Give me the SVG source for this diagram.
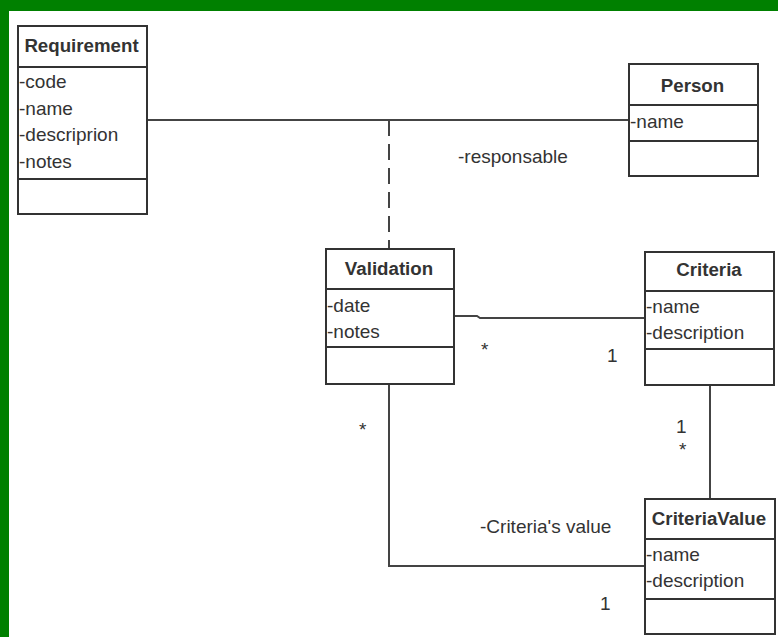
<svg xmlns="http://www.w3.org/2000/svg" width="778" height="637" viewBox="0 0 778 637">
<style>
.box{fill:#fff;stroke:#333;stroke-width:2}
.div{stroke:#333;stroke-width:2}
.ln{fill:none;stroke:#444;stroke-width:2}
.dash{fill:none;stroke:#444;stroke-width:2;stroke-dasharray:16 8}
text{font-family:"Liberation Sans",Arial,sans-serif;font-size:19px;fill:#333}
.t{font-weight:bold;text-anchor:middle;font-size:18.7px}
</style>
<rect x="0" y="0" width="778" height="637" fill="#fff"/>
<rect x="0" y="0" width="778" height="11" fill="#008000"/>
<rect x="0" y="0" width="9" height="637" fill="#008000"/>
<g id="connectors">
<line class="ln" x1="147" y1="120" x2="629" y2="120"/>
<line class="dash" x1="389" y1="120" x2="389" y2="249"/>
<polyline class="ln" points="454,316 477,316 480,318 645,318"/>
<polyline class="ln" points="389,384 389,566 645,566"/>
<line class="ln" x1="710" y1="385" x2="710" y2="499"/>
<text x="458" y="163">-responsable</text>
<text x="481" y="356" font-size="14">*</text>
<text x="607" y="362">1</text>
<text x="359" y="436" font-size="14">*</text>
<text x="676" y="433">1</text>
<text x="679" y="456" font-size="14">*</text>
<text x="480" y="533">-Criteria's value</text>
<text x="600" y="610">1</text>
</g>
<g id="Requirement">
<rect class="box" x="18" y="26" width="129" height="188"/>
<line class="div" x1="18" y1="67" x2="147" y2="67"/>
<line class="div" x1="18" y1="179" x2="147" y2="179"/>
<text class="t" x="81.5" y="52">Requirement</text>
<text x="19" y="88">-code</text>
<text x="19" y="114.5">-name</text>
<text x="19" y="141">-descriprion</text>
<text x="19" y="167.5">-notes</text>
</g>
<g id="Person">
<rect class="box" x="629" y="64" width="129" height="112"/>
<line class="div" x1="629" y1="105" x2="758" y2="105"/>
<line class="div" x1="629" y1="141" x2="758" y2="141"/>
<text class="t" x="692.5" y="92">Person</text>
<text x="630" y="128">-name</text>
</g>
<g id="Validation">
<rect class="box" x="326" y="249" width="128" height="135"/>
<line class="div" x1="326" y1="289" x2="454" y2="289"/>
<line class="div" x1="326" y1="347" x2="454" y2="347"/>
<text class="t" x="389" y="275">Validation</text>
<text x="327" y="311.5">-date</text>
<text x="327" y="337.5">-notes</text>
</g>
<g id="Criteria">
<rect class="box" x="645" y="252" width="129" height="133"/>
<line class="div" x1="645" y1="291" x2="774" y2="291"/>
<line class="div" x1="645" y1="349" x2="774" y2="349"/>
<text class="t" x="709" y="276">Criteria</text>
<text x="646" y="312.5">-name</text>
<text x="646" y="339">-description</text>
</g>
<g id="CriteriaValue">
<rect class="box" x="645" y="499" width="130" height="135"/>
<line class="div" x1="645" y1="539" x2="775" y2="539"/>
<line class="div" x1="645" y1="599" x2="775" y2="599"/>
<text class="t" x="709" y="525">CriteriaValue</text>
<text x="646" y="561">-name</text>
<text x="646" y="587">-description</text>
</g>
</svg>
